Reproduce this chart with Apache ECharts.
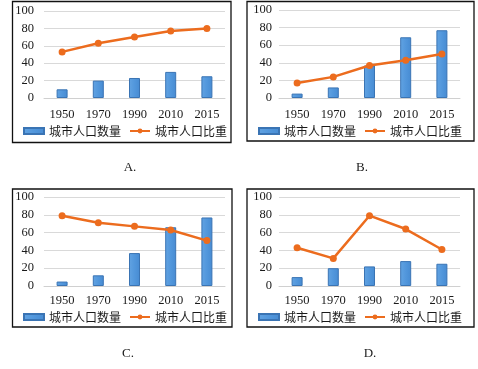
<!DOCTYPE html>
<html>
<head>
<meta charset="utf-8">
<script src="https://cdn.jsdelivr.net/npm/echarts@6/dist/echarts.min.js"></script>
<style>
html,body{margin:0;padding:0;background:#fff;}
#c{width:478px;height:369px;}
</style>
</head>
<body>
<div id="c"></div>
<script>
const years = ['1950', '1970', '1990', '2010', '2015'];
const yTicks = [0, 20, 40, 60, 80, 100];
const barName = '城市人口数量';
const lineName = '城市人口比重';
const panelLabels = ['A.', 'B.', 'C.', 'D.'];

const countA = [10, 20, 23, 30, 25];
const shareA = [53, 63, 70, 77, 80];
const countB = [5, 12, 37, 69, 77];
const shareB = [17, 24, 37, 43, 50];
const countC = [5, 12, 37, 66, 77];
const shareC = [79, 71, 67, 63, 51];
const countD = [10, 20, 22, 28, 25];
const shareD = [43, 31, 79, 64, 41];

const counts = [countA, countB, countC, countD];
const shares = [shareA, shareB, shareC, shareD];

// layout
const grids = [
  {left: 44, top: 11, width: 181, height: 87},
  {left: 279, top: 10, width: 181, height: 88},
  {left: 44, top: 197, width: 181, height: 89},
  {left: 279, top: 197, width: 181, height: 89}
];
const boxes = [
  {x: 12.5, y: 1.5, w: 218.5, h: 141},
  {x: 247, y: 1.5, w: 227, h: 139.5},
  {x: 12.5, y: 189, w: 219.5, h: 138},
  {x: 247, y: 189, w: 227, h: 138}
];
const legendTops = [125, 125, 311, 311];
const legendLefts = [23, 258, 23, 258];
const labelPos = [[130, 168], [362, 168], [128, 354], [370, 354]];
const yMargins = [10, 7, 10, 7];
const xMargins = [10, 10, 8, 8];

const serif = '"Liberation Serif", "DejaVu Serif", serif';
const cjk = '"Noto Sans CJK SC", sans-serif';
const ink = '#1a1a1a';
const orange = '#EC6C1E';

const option = {
  animation: false,
  backgroundColor: '#fff',
  grid: grids.map(g => Object.assign({containLabel: false}, g)),
  xAxis: grids.map((g, i) => ({
    gridIndex: i,
    type: 'category',
    data: years,
    axisLine: {show: true, lineStyle: {color: '#d0d0d0', width: 1}},
    axisTick: {show: false},
    axisLabel: {color: ink, fontFamily: serif, fontSize: 12.5, margin: xMargins[i]}
  })),
  yAxis: grids.map((g, i) => ({
    gridIndex: i,
    type: 'value',
    min: yTicks[0],
    max: yTicks[yTicks.length - 1],
    interval: yTicks[1] - yTicks[0],
    axisLine: {show: false},
    axisTick: {show: false},
    splitLine: {lineStyle: {color: '#d9d9d9', width: 1}},
    axisLabel: {color: ink, fontFamily: serif, fontSize: 12.5, margin: yMargins[i]}
  })),
  legend: boxes.map((b, i) => ({
    top: legendTops[i],
    left: legendLefts[i],
    padding: 0,
    orient: 'horizontal',
    itemGap: 8,
    itemWidth: 20,
    itemHeight: 6,
    textStyle: {color: ink, fontFamily: cjk, fontSize: 12},
    data: [{name: barName, icon: 'rect'}, {name: lineName}],
    selectedMode: false
  })),
  series: [],
  graphic: []
};

for (let i = 0; i < 4; i++) {
  option.series.push({
    name: barName,
    type: 'bar',
    xAxisIndex: i,
    yAxisIndex: i,
    data: counts[i],
    barWidth: 11,
    itemStyle: {
      color: new echarts.graphic.LinearGradient(0, 0, 1, 0, [
        {offset: 0, color: '#62a3e2'},
        {offset: 0.5, color: '#5297dc'},
        {offset: 1, color: '#478bd2'}
      ]),
      borderColor: '#3a74b4',
      borderWidth: 1
    },
    z: 2
  });
  option.series.push({
    name: lineName,
    type: 'line',
    xAxisIndex: i,
    yAxisIndex: i,
    data: shares[i],
    symbol: 'circle',
    symbolSize: 7,
    lineStyle: {color: orange, width: 2.5},
    itemStyle: {color: orange},
    z: 3
  });
  const b = boxes[i];
  option.graphic.push({
    type: 'rect',
    shape: {x: b.x, y: b.y, width: b.w, height: b.h},
    style: {fill: 'none', stroke: '#111', lineWidth: 1.3},
    silent: true,
    z: 10
  });
  option.graphic.push({
    type: 'text',
    x: labelPos[i][0],
    y: labelPos[i][1],
    style: {
      text: panelLabels[i],
      fill: ink,
      font: '13px ' + serif,
      textAlign: 'center',
      textVerticalAlign: 'middle'
    },
    silent: true
  });
}

const chart = echarts.init(document.getElementById('c'), null, {renderer: 'canvas'});
chart.setOption(option);
</script>
</body>
</html>
